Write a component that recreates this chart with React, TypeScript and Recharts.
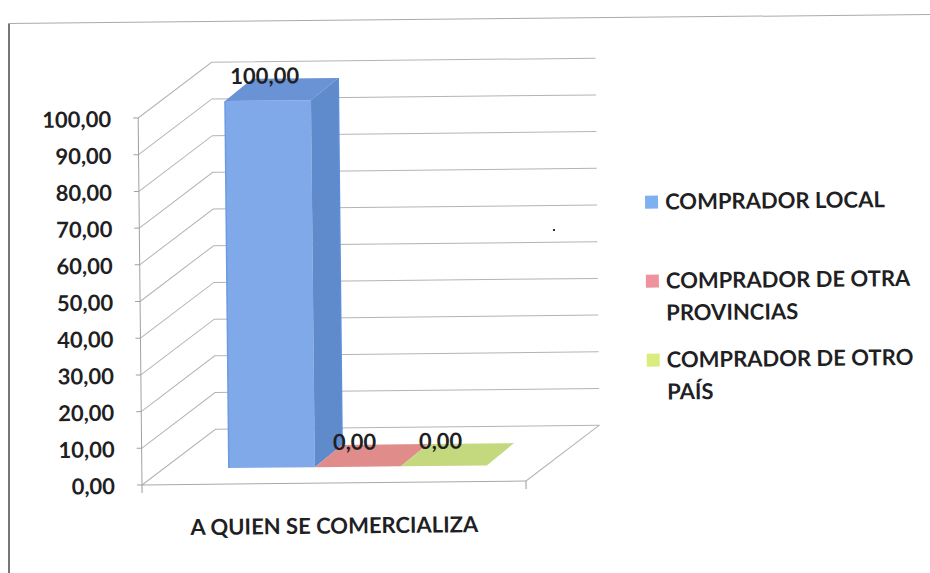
import React from "react";
import { BarChart, Bar, XAxis, YAxis, CartesianGrid, Legend } from "recharts";

const categories = ["A QUIEN SE COMERCIALIZA"];
const seriesNames = ["COMPRADOR LOCAL", "COMPRADOR DE OTRA PROVINCIAS", "COMPRADOR DE OTRO PAÍS"];
const localValues = [100];
const provinciasValues = [0];
const paisValues = [0];
const yTicks = [0, 10, 20, 30, 40, 50, 60, 70, 80, 90, 100];

const rows = categories.map((name, i) => ({
  name,
  local: localValues[i],
  provincias: provinciasValues[i],
  pais: paisValues[i],
}));

const FONT = "Lato, 'Open Sans', sans-serif";
const INK = "#1f1f24";
const GRID = "#b4b4b4";
const DEPTH_X = 74;
const DEPTH_Y = -55;
const PLANE_X = 24;
const PLANE_Y = -16;
const BAR_DX = 27.5;
const BAR_DY = -22;
const PLOT_BOTTOM = 485;

const palettes = [
  { front: "#7FA9E8", top: "#6A93D6", side: "#5F8ACB", edge: "#6C9BE0", swatch: "#7FB0F0" },
  { front: "#E08C8A", top: "#E08C8A", side: "#D57F7D", edge: "#E08C8A", swatch: "#F0929E" },
  { front: "#C4D87E", top: "#C4D87E", side: "#B9CE72", edge: "#C4D87E", swatch: "#D9EC80" },
];

const makeShape = (p: (typeof palettes)[number]) => (props: any) => {
  const { x, y, width, height } = props;
  const fx = x + PLANE_X;
  const fy = y + PLANE_Y;
  const top = `${fx},${fy} ${fx + BAR_DX},${fy + BAR_DY} ${fx + width + BAR_DX},${fy + BAR_DY} ${fx + width},${fy}`;
  const side = `${fx + width},${fy} ${fx + width + BAR_DX},${fy + BAR_DY} ${fx + width + BAR_DX},${fy + BAR_DY + height} ${fx + width},${fy + height}`;
  return (
    <g>
      {height > 0 && <rect x={fx} y={fy} width={width} height={height} fill={p.front} />}
      {height > 0 && <line x1={fx} y1={fy} x2={fx} y2={fy + height} stroke={p.edge} strokeWidth={1.5} />}
      <polygon points={top} fill={p.top} />
      {height > 0 && <polygon points={side} fill={p.side} />}
      {height > 0 && (
        <line
          x1={fx + width + BAR_DX}
          y1={fy + BAR_DY}
          x2={fx + width + BAR_DX}
          y2={fy + BAR_DY + height}
          stroke="#5C90DA"
          strokeWidth={1.5}
        />
      )}
    </g>
  );
};

const fmt = (v: number) => v.toFixed(2).replace(".", ",");

const valueLabel = (props: any) => {
  const { x, y, width, value } = props;
  return (
    <text
      x={x + width / 2 + 21}
      y={y - 33}
      textAnchor="middle"
      fontFamily={FONT}
      fontWeight={700}
      fontSize={22}
      fill={INK}
    >
      {fmt(value)}
    </text>
  );
};

const gridLine = (props: any) => {
  const { x1, x2, y1 } = props;
  const isFloor = Math.abs(y1 - PLOT_BOTTOM) < 1;
  const backY = y1 + DEPTH_Y;
  return (
    <g key={props.key ?? y1}>
      <polyline
        points={`${x1},${y1} ${x1 + DEPTH_X},${backY} ${x2 + DEPTH_X},${backY}`}
        fill="none"
        stroke={GRID}
        strokeWidth={1}
      />
      {isFloor && (
        <>
          <line x1={x2} y1={y1} x2={x2 + DEPTH_X} y2={backY} stroke={GRID} strokeWidth={1} />
          <line x1={x1} y1={y1} x2={x1} y2={y1 + 8} stroke="#999" strokeWidth={1} />
          <line x1={x2} y1={y1} x2={x2} y2={y1 + 8} stroke="#999" strokeWidth={1} />
        </>
      )}
    </g>
  );
};

const legendTops = [191, 270, 349];

const legendContent = (props: any) => (
  <div style={{ position: "relative", width: 930, height: 0 }}>
    {(props.payload ?? []).map((entry: any, i: number) => (
      <div
        key={entry.value}
        style={{
          position: "absolute",
          left: 668,
          top: legendTops[i],
          width: 258,
          fontFamily: FONT,
          fontWeight: 700,
          fontSize: 22,
          lineHeight: "32px",
          color: INK,
          textAlign: "left",
        }}
      >
        <span
          style={{
            position: "absolute",
            left: -20,
            top: 10,
            width: 13,
            height: 13,
            background: palettes[i].swatch,
          }}
        />
        {entry.value}
      </div>
    ))}
  </div>
);

export default function App() {
  return (
    <div
      style={{
        position: "absolute",
        left: 0,
        top: 0,
        width: 930,
        height: 573,
        overflow: "hidden",
        background: "#fff",
      }}
    >
      <div style={{ position: "absolute", left: 8, top: 23, width: 2, height: 550, background: "#777" }} />
      <div
        style={{
          position: "absolute",
          left: 8,
          top: 23,
          width: 940,
          height: 1,
          background: "#aaa",
          transform: "rotate(-0.56deg)",
          transformOrigin: "0 0",
        }}
      />
      <div style={{ position: "absolute", left: 553, top: 229, width: 2, height: 2, background: "#333" }} />
      <div
        style={{
          position: "relative",
          width: 930,
          height: 573,
          transform: "rotate(-0.6deg)",
          transformOrigin: "142px 485px",
        }}
      >
        <BarChart
          width={930}
          height={573}
          data={rows}
          margin={{ top: 118, right: 404, bottom: 0, left: 0 }}
          barCategoryGap={63}
          barGap={0}
          style={{ position: "absolute", left: 0, top: 0 }}
        >
          <CartesianGrid vertical={false} horizontal={gridLine} />
          <XAxis
            dataKey="name"
            height={88}
            stroke="#a8a8a8"
            tickLine={false}
            tickMargin={29}
            tick={{ fontFamily: FONT, fontWeight: 700, fontSize: 22, fill: INK }}
          />
          <YAxis
            width={142}
            domain={[0, 100]}
            ticks={yTicks}
            tickFormatter={fmt}
            stroke="#a0a0a0"
            tickSize={5}
            tickMargin={22}
            interval={0}
            dy={1}
            tick={{ fontFamily: FONT, fontWeight: 700, fontSize: 22, fill: INK }}
          />
          <Legend
            layout="vertical"
            align="center"
            verticalAlign="middle"
            itemSorter={null}
            wrapperStyle={{ left: 0, top: 0, width: 930, height: 0 }}
            content={legendContent}
          />
          <Bar dataKey="local" name={seriesNames[0]} fill={palettes[0].swatch} isAnimationActive={false} shape={makeShape(palettes[0])} label={valueLabel} />
          <Bar dataKey="provincias" name={seriesNames[1]} fill={palettes[1].swatch} isAnimationActive={false} shape={makeShape(palettes[1])} label={valueLabel} />
          <Bar dataKey="pais" name={seriesNames[2]} fill={palettes[2].swatch} isAnimationActive={false} shape={makeShape(palettes[2])} label={valueLabel} />
        </BarChart>
      </div>
    </div>
  );
}
